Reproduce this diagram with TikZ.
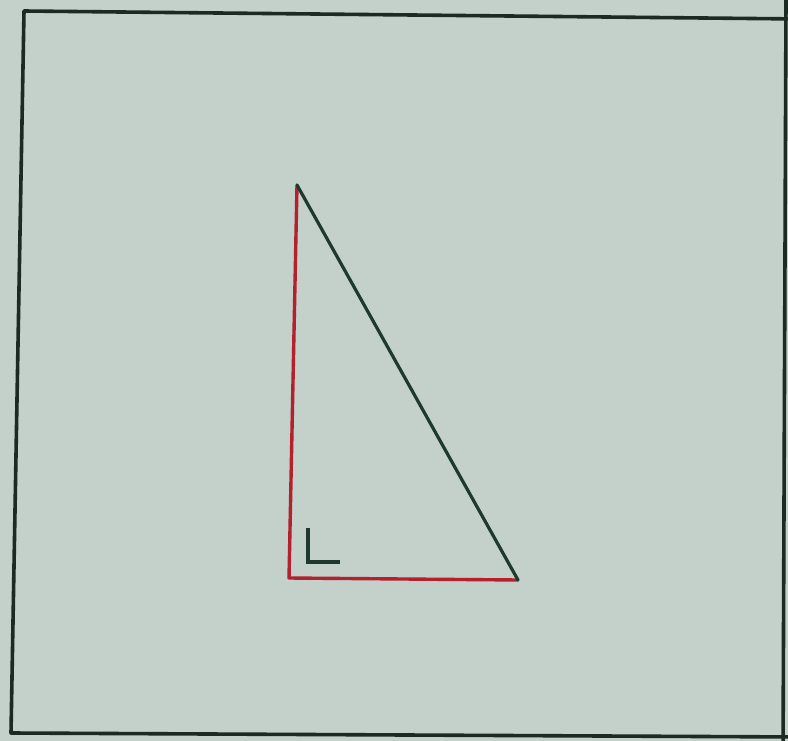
\documentclass[tikz,border=0pt]{standalone}
\definecolor{bgc}{HTML}{C4D0CA}
\definecolor{framec}{HTML}{1C2A24}
\definecolor{legc}{HTML}{B3202E}
\definecolor{hypc}{HTML}{1E3A2C}
\begin{document}
\begin{tikzpicture}[x=1pt,y=-1pt,
  frameline/.style={draw=framec,line width=3.6pt,line join=round},
  legline/.style={draw=legc,line width=3.4pt,line join=round,line cap=round},
  hypline/.style={draw=hypc,line width=3.2pt,line cap=round},
  rightmark/.style={draw=hypc,line width=3.4pt}]
\fill[bgc] (0,0) rectangle (788,741);
\useasboundingbox (0,0) rectangle (788,741);
% outer frame
\coordinate (f1) at (24,11);
\coordinate (f2) at (800,19);
\coordinate (f3) at (783,760);
\coordinate (f4) at (11,733);
\draw[frameline] (f2) -- (f1) -- (f4) -- (800,737);
\draw[frameline] (f3) -- (786,0);
% triangle
\coordinate (A) at (297,185);
\coordinate (B) at (289,578);
\coordinate (C) at (518,580);
\draw[legline] (A) -- (B) -- (C);
\draw[hypline] (A) -- (C);
% right angle mark
\coordinate (m1) at (308,528);
\coordinate (m2) at (308,562);
\coordinate (m3) at (340,562);
\draw[rightmark] (m1) -- (m2) -- (m3);
\end{tikzpicture}
\end{document}
